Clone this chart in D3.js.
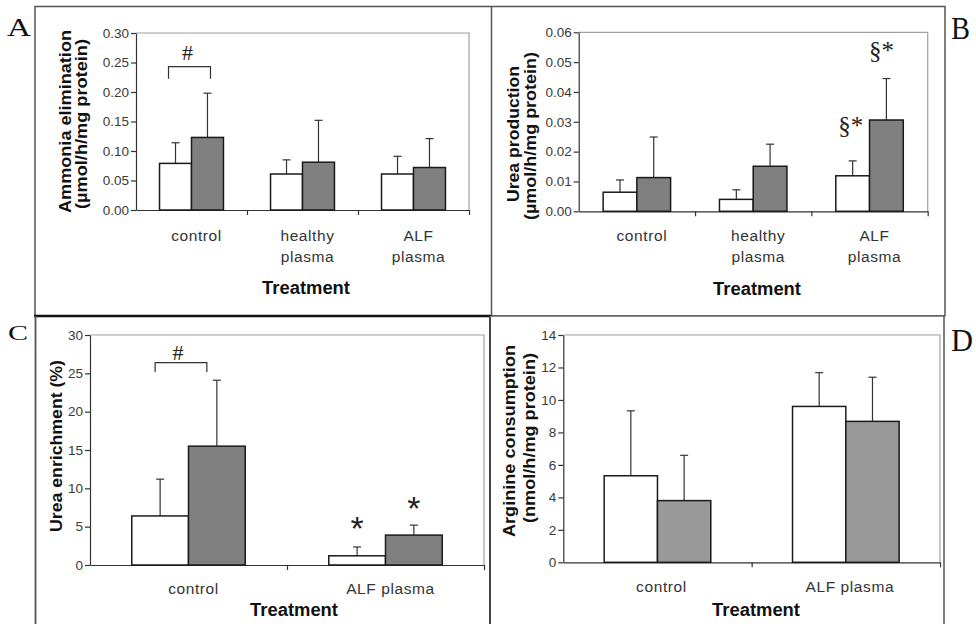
<!DOCTYPE html>
<html>
<head>
<meta charset="utf-8">
<script src="https://cdn.jsdelivr.net/npm/d3@7"></script>
<style>
  html, body { margin: 0; padding: 0; background: #fff; }
  svg { display: block; }
  .tick text { font-family: "Liberation Sans", Arial, sans-serif; font-size: 13.5px; fill: #3a3a3a; }
</style>
</head>
<body>
<svg id="fig" width="976" height="624"></svg>
<script>
// ---- data ----
const catsABC3 = ["control", "healthy plasma", "ALF plasma"];
const catsCD = ["control", "ALF plasma"];

// A: ammonia elimination (µmol/h/mg protein)
const ammoniaWhite = [0.079, 0.061, 0.061];
const ammoniaWhiteErr = [0.035, 0.024, 0.030];
const ammoniaGray = [0.123, 0.081, 0.072];
const ammoniaGrayErr = [0.075, 0.071, 0.049];
const ammoniaTicks = [0, 0.05, 0.10, 0.15, 0.20, 0.25, 0.30];

// B: urea production (µmol/h/mg protein)
const ureaProdWhite = [0.0064, 0.0040, 0.0119];
const ureaProdWhiteErr = [0.0041, 0.0032, 0.0050];
const ureaProdGray = [0.0113, 0.0151, 0.0306];
const ureaProdGrayErr = [0.0136, 0.0074, 0.0139];
const ureaProdTicks = [0, 0.01, 0.02, 0.03, 0.04, 0.05, 0.06];

// C: urea enrichment (%)
const enrichWhite = [6.4, 1.2];
const enrichWhiteErr = [4.8, 1.15];
const enrichGray = [15.5, 3.9];
const enrichGrayErr = [8.6, 1.3];
const enrichTicks = [0, 5, 10, 15, 20, 25, 30];

// D: arginine consumption (nmol/h/mg protein)
const arginineWhite = [5.33, 9.6];
const arginineWhiteErr = [4.0, 2.08];
const arginineGray = [3.8, 8.68];
const arginineGrayErr = [2.79, 2.72];
const arginineTicks = [0, 2, 4, 6, 8, 10, 12, 14];

const SANS = '"Liberation Sans", Arial, sans-serif';
const SERIF = '"Liberation Serif", "Times New Roman", serif';

const svg = d3.select("#fig");

// ---- panel frames ----
const frames = svg.append("g").attr("fill", "none");
// A
frames.append("path").attr("d", "M35,316 V6.5 H491.5 V316").attr("stroke", "#555").attr("stroke-width", 1.5);
// B
frames.append("path").attr("d", "M491.5,6.5 H945 V316").attr("stroke", "#555").attr("stroke-width", 1.5);
frames.append("line").attr("x1", 491).attr("x2", 945).attr("y1", 316).attr("y2", 316).attr("stroke", "#333").attr("stroke-width", 1.6);
// heavy divider under A
frames.append("line").attr("x1", 34).attr("x2", 491).attr("y1", 316).attr("y2", 316).attr("stroke", "#111").attr("stroke-width", 2.5);
// C
frames.append("line").attr("x1", 35.5).attr("x2", 35.5).attr("y1", 316).attr("y2", 624).attr("stroke", "#555").attr("stroke-width", 1.8);
frames.append("line").attr("x1", 490).attr("x2", 490).attr("y1", 316).attr("y2", 624).attr("stroke", "#444").attr("stroke-width", 2);
// D
frames.append("line").attr("x1", 490).attr("x2", 944).attr("y1", 316.5).attr("y2", 316.5).attr("stroke", "#888").attr("stroke-width", 1.2);
frames.append("line").attr("x1", 944).attr("x2", 944).attr("y1", 316).attr("y2", 624).attr("stroke", "#555").attr("stroke-width", 1.5);

// ---- panel letters ----
[
  {t: "A", x: 7, y: 36, fs: 26, w: 24},
  {t: "B", x: 951, y: 39, fs: 31, w: 19},
  {t: "C", x: 8, y: 340, fs: 22, w: 20},
  {t: "D", x: 951, y: 351, fs: 31, w: 22}
].forEach(d => {
  svg.append("text").attr("x", d.x).attr("y", d.y)
    .attr("font-family", SERIF).attr("font-size", d.fs)
    .attr("textLength", d.w).attr("lengthAdjust", "spacingAndGlyphs")
    .attr("fill", "#111").text(d.t);
});

function panel(cfg) {
  const g = svg.append("g");
  const x = d3.scaleBand().domain(cfg.cats).range([cfg.x0, cfg.x1]).paddingInner(0).paddingOuter(0);
  const y = d3.scaleLinear().domain([0, cfg.ymax]).range([cfg.yb, cfg.yt]);
  const bw = x.bandwidth() * cfg.barFrac;

  // plot area border (top and right)
  g.append("path")
    .attr("d", `M${cfg.x0},${cfg.yt} H${cfg.x1} V${cfg.yb}`)
    .attr("fill", "none").attr("stroke", "#a0a0a0").attr("stroke-width", 1.2);

  // y axis
  const ya = d3.axisLeft(y).tickValues(cfg.ticks).tickFormat(cfg.fmt).tickSize(5).tickSizeOuter(0).tickPadding(2);
  const yg = g.append("g").attr("transform", `translate(${cfg.x0},0)`).call(ya);
  yg.selectAll("line, path").attr("stroke", "#333").attr("stroke-width", 1.2);

  // x axis with ticks at category boundaries
  const xb = d3.scaleLinear().domain([0, cfg.cats.length]).range([cfg.x0, cfg.x1]);
  const xa = d3.axisBottom(xb).tickValues(d3.range(1, cfg.cats.length + 1)).tickFormat("").tickSize(5).tickSizeOuter(0);
  const xg = g.append("g").attr("transform", `translate(0,${cfg.yb})`).call(xa);
  xg.selectAll("line, path").attr("stroke", "#333").attr("stroke-width", 1.2);

  // bars
  const series = [
    {vals: cfg.white, errs: cfg.whiteErr, fill: "#ffffff", off: -bw},
    {vals: cfg.gray, errs: cfg.grayErr, fill: cfg.grayFill, off: 0}
  ];
  const barPos = {};
  series.forEach((s, si) => {
    cfg.cats.forEach((c, i) => {
      const cx = x(c) + x.bandwidth() / 2 + s.off;
      const top = y(s.vals[i]);
      const eTop = y(s.vals[i] + s.errs[i]);
      const mid = cx + bw / 2;
      barPos[si + "_" + i] = {left: cx, mid, top, eTop};
      // error bar (upward)
      g.append("line").attr("x1", mid).attr("x2", mid).attr("y1", top).attr("y2", eTop)
        .attr("stroke", "#333").attr("stroke-width", 1.2);
      g.append("line").attr("x1", mid - 4).attr("x2", mid + 4).attr("y1", eTop).attr("y2", eTop)
        .attr("stroke", "#333").attr("stroke-width", 1.2);
      g.append("rect").attr("x", cx).attr("y", top).attr("width", bw).attr("height", y(0) - top)
        .attr("fill", s.fill).attr("stroke", "#1a1a1a").attr("stroke-width", 1.5);
    });
  });

  // category labels
  cfg.cats.forEach((c, i) => {
    const lines = cfg.wrap ? c.split(" ") : [c];
    const t = g.append("text")
      .attr("text-anchor", "middle")
      .attr("font-family", SANS).attr("font-size", 15.5).attr("letter-spacing", "0.6px")
      .attr("fill", "#333");
    lines.forEach((ln, k) => {
      t.append("tspan").attr("x", x(c) + x.bandwidth() / 2 + cfg.labelDx)
        .attr("y", cfg.labelY + k * 21).text(ln);
    });
  });

  // x title
  g.append("text").attr("x", cfg.xTitleX).attr("y", cfg.xTitleY)
    .attr("text-anchor", "middle").attr("font-family", SANS).attr("font-weight", "bold")
    .attr("font-size", 17.5).attr("textLength", 88).attr("lengthAdjust", "spacingAndGlyphs")
    .attr("fill", "#111").text("Treatment");

  // y title lines
  cfg.yTitle.forEach(l => {
    g.append("text")
      .attr("transform", `translate(${l.x},${l.cy}) rotate(-90)`)
      .attr("text-anchor", "middle").attr("font-family", SANS).attr("font-weight", "bold")
      .attr("font-size", 17).attr("textLength", l.len).attr("lengthAdjust", "spacingAndGlyphs")
      .attr("fill", "#111").text(l.t);
  });

  return {g, x, y, bw, barPos};
}

// ---- A ----
const pA = panel({
  cats: catsABC3, x0: 136, x1: 469, yt: 33, yb: 210, ymax: 0.30, ticks: ammoniaTicks,
  fmt: d3.format(".2f"), barFrac: 0.288,
  white: ammoniaWhite, whiteErr: ammoniaWhiteErr, gray: ammoniaGray, grayErr: ammoniaGrayErr,
  grayFill: "#808080", wrap: true, labelDx: 5, labelY: 241,
  xTitleX: 306, xTitleY: 294,
  yTitle: [
    {t: "Ammonia elimination", x: 71, cy: 121.5, len: 183},
    {t: "(µmol/h/mg protein)", x: 87, cy: 124, len: 170}
  ]
});
// significance bracket over the control pair
{
  const w = pA.barPos["0_0"], gr = pA.barPos["1_0"];
  const yTop = pA.y(0.243), l = w.mid - 7, r = gr.mid + 3;
  pA.g.append("path").attr("d", `M${l},${yTop + 12} V${yTop} H${r} V${yTop + 12}`)
    .attr("fill", "none").attr("stroke", "#333").attr("stroke-width", 1.2);
  pA.g.append("text").attr("x", (l + r) / 2 - 2).attr("y", yTop - 7).attr("text-anchor", "middle")
    .attr("font-family", SERIF).attr("font-size", 22).attr("fill", "#222").text("#");
}

// ---- B ----
const pB = panel({
  cats: catsABC3, x0: 578.7, x1: 927.7, yt: 32.3, yb: 211.3, ymax: 0.06, ticks: ureaProdTicks,
  fmt: d3.format(".2f"), barFrac: 0.29,
  white: ureaProdWhite, whiteErr: ureaProdWhiteErr, gray: ureaProdGray, grayErr: ureaProdGrayErr,
  grayFill: "#808080", wrap: true, labelDx: 5, labelY: 241,
  xTitleX: 757, xTitleY: 295,
  yTitle: [
    {t: "Urea production", x: 519, cy: 134, len: 136},
    {t: "(µmol/h/mg protein)", x: 535.5, cy: 136, len: 168}
  ]
});
[["0_2", -2, 27], ["1_2", -5, 20]].forEach(([k, dx, dy]) => {
  const b = pB.barPos[k];
  pB.g.append("text").attr("x", b.mid + dx).attr("y", b.eTop - dy).attr("text-anchor", "middle")
    .attr("font-family", SERIF).attr("font-size", 25).attr("fill", "#222").text("§*");
});

// ---- C ----
const pC = panel({
  cats: catsCD, x0: 90, x1: 484, yt: 335, yb: 565, ymax: 30, ticks: enrichTicks,
  fmt: d3.format("d"), barFrac: 0.288,
  white: enrichWhite, whiteErr: enrichWhiteErr, gray: enrichGray, grayErr: enrichGrayErr,
  grayFill: "#808080", wrap: false, labelDx: 5, labelY: 594,
  xTitleX: 294, xTitleY: 616,
  yTitle: [
    {t: "Urea enrichment (%)", x: 62, cy: 446, len: 172}
  ]
});
{
  const w = pC.barPos["0_0"], gr = pC.barPos["1_0"];
  const yTop = pC.y(26.4), l = w.mid - 5, r = gr.mid - 10;
  pC.g.append("path").attr("d", `M${l},${yTop + 9.5} V${yTop} H${r} V${yTop + 9.5}`)
    .attr("fill", "none").attr("stroke", "#333").attr("stroke-width", 1.2);
  pC.g.append("text").attr("x", (l + r) / 2 - 3).attr("y", yTop - 3).attr("text-anchor", "middle")
    .attr("font-family", SERIF).attr("font-size", 22).attr("fill", "#222").text("#");
}
[["0_1", 0, 22], ["1_1", 0, 20]].forEach(([k, dx, dy]) => {
  const b = pC.barPos[k];
  pC.g.append("text").attr("x", b.mid + dx).attr("y", b.eTop - dy + 15).attr("text-anchor", "middle")
    .attr("font-family", SANS).attr("font-size", 34).attr("fill", "#222").text("*");
});

// ---- D ----
panel({
  cats: catsCD, x0: 563.3, x1: 940, yt: 335, yb: 562.3, ymax: 14, ticks: arginineTicks,
  fmt: d3.format("d"), barFrac: 0.283,
  white: arginineWhite, whiteErr: arginineWhiteErr, gray: arginineGray, grayErr: arginineGrayErr,
  grayFill: "#999999", wrap: false, labelDx: 4, labelY: 592,
  xTitleX: 756, xTitleY: 616,
  yTitle: [
    {t: "Arginine consumption", x: 515, cy: 441, len: 192},
    {t: "(nmol/h/mg protein)", x: 535, cy: 438, len: 170}
  ]
});
</script>
</body>
</html>
